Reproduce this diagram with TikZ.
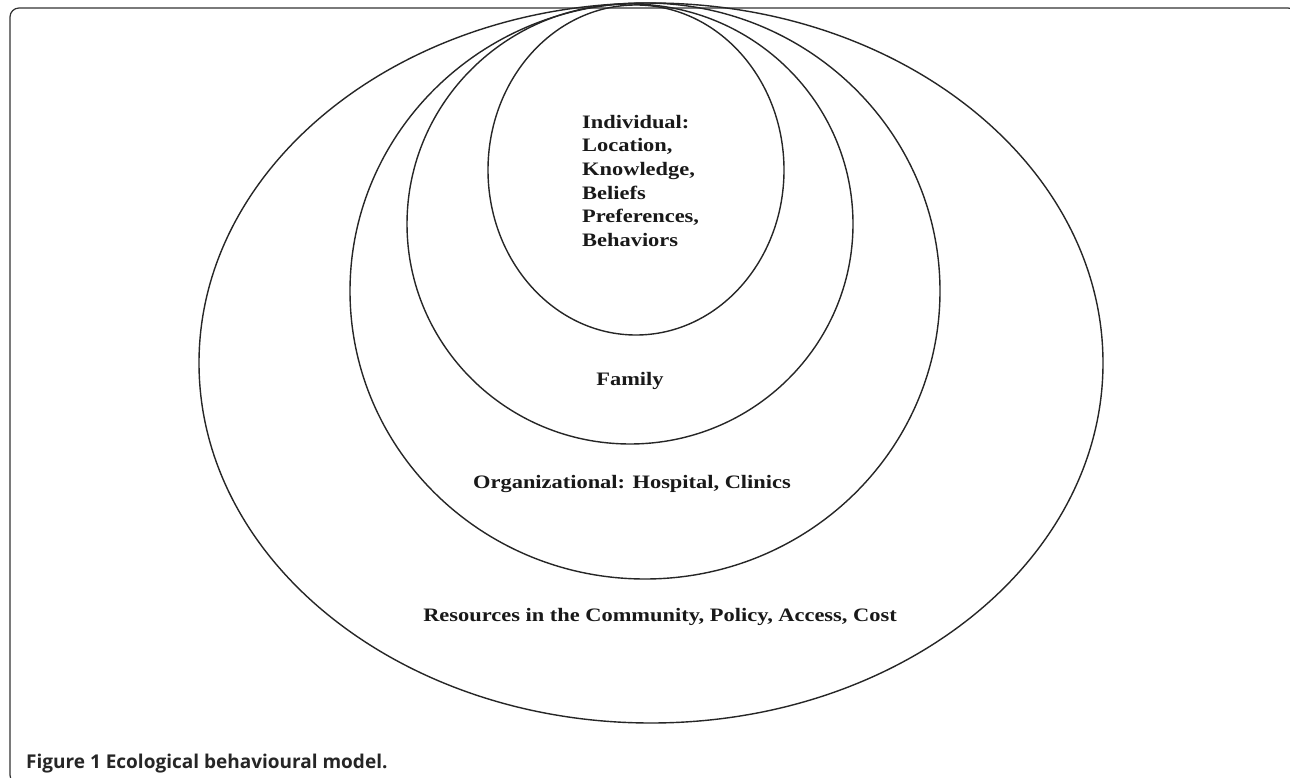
\documentclass[tikz,border=0pt]{standalone}
\usepackage{fontspec}
\setmainfont{Liberation Serif}
\setsansfont{Open Sans}
\newfontfamily\ringfont[FakeStretch=1.18]{Liberation Serif}
\usetikzlibrary{positioning}

\newcommand{\ECOw}{1290}
\newcommand{\ECOh}{778}

\begin{document}
\begin{tikzpicture}[x=1pt,y=-1pt,
	ring/.style={draw=black!85,line width=1.4pt},
	ringtext/.style={font=\ringfont\bfseries\fontsize{19}{23.5}\selectfont,align=left,inner sep=0pt,text=black!90},
	figbox/.style={draw=black!80,line width=1.2pt,rounded corners=9pt},
	captext/.style={font=\sffamily\bfseries\fontsize{19}{22}\selectfont,inner sep=0pt,text=black!85}]

	%The page
	\useasboundingbox (0,0) rectangle (\ECOw,\ECOh);
	\clip (0,0) rectangle (\ECOw,\ECOh);
	\fill[white] (0,0) rectangle (\ECOw,\ECOh);

	%The frame round the figure
	\draw[figbox] (10,8) rectangle (1297,784);

	%The rings, from the outside in
	\draw[ring] (651,363) ellipse [x radius=452pt, y radius=360pt];
	\draw[ring] (645,291) ellipse [x radius=295pt, y radius=288pt];
	\draw[ring] (630,224) ellipse [x radius=223pt, y radius=220pt];
	\draw[ring] (636,170) ellipse [x radius=148pt, y radius=165pt];

	%The texts in the rings
	\node[ringtext,anchor=base west] (indiv) at (582,246) {Individual:\\Location,\\Knowledge,\\Beliefs\\Preferences,\\Behaviors};
	\node[ringtext] (family) at (630,381) {Family};
	\node[ringtext] (org) at (632,484) {Organizational: Hospital, Clinics};
	\node[ringtext] (res) at (660,617) {Resources in the Community, Policy, Access, Cost};

	%The caption
	\node[captext,anchor=base west] (caption) at (26,768) {Figure 1 Ecological behavioural model.};

\end{tikzpicture}
\end{document}
